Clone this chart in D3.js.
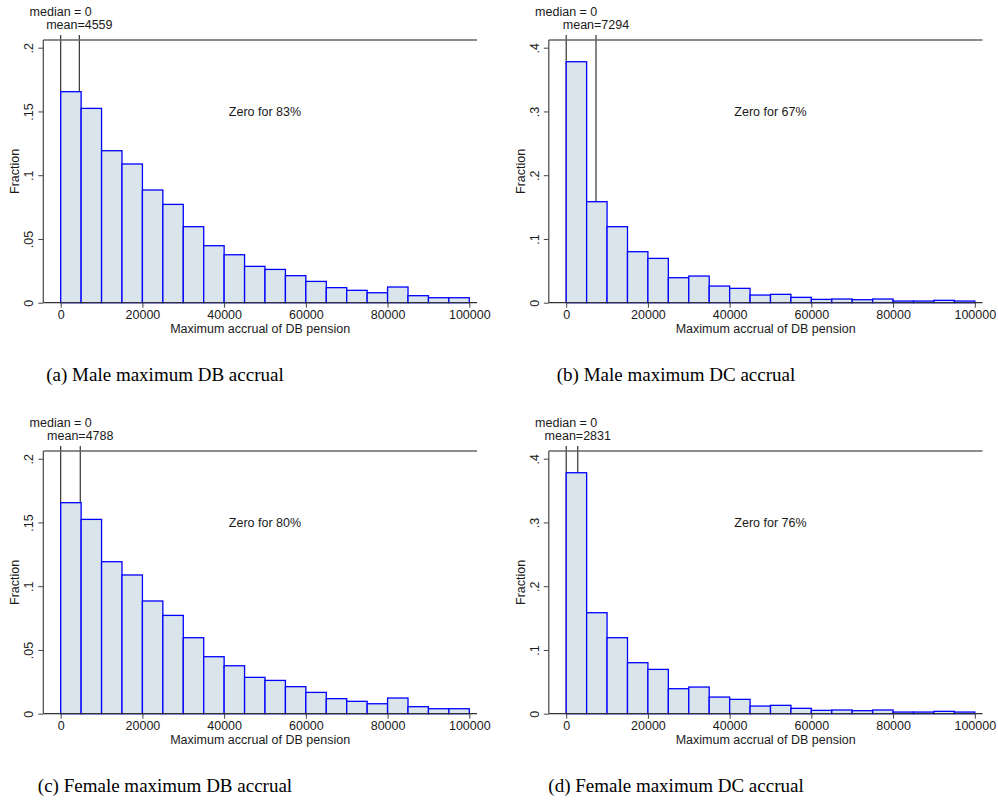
<!DOCTYPE html>
<html>
<head>
<meta charset="utf-8">
<script src="https://cdn.jsdelivr.net/npm/d3@7"></script>
<style>
  body { margin: 0; background: #fff; }
  svg { display: block; }
  text { font-family: "Liberation Sans", Arial, sans-serif; fill: #1a1a1a; }
  .caption { font-family: "Liberation Serif", "Times New Roman", serif; fill: #000; }
</style>
</head>
<body>
<script>
const width = 998,
    height = 810;

// histogram bins (lower edge of each 5000 wide bin)
const binStarts = [0, 5000, 10000, 15000, 20000, 25000, 30000, 35000, 40000, 45000,
                   50000, 55000, 60000, 65000, 70000, 75000, 80000, 85000, 90000, 95000];
const binWidth = 5000;

// fractions
const maleDB = [0.1655, 0.1524, 0.1192, 0.1088, 0.0884, 0.0771, 0.0596, 0.0447, 0.0376, 0.0285,
                0.0261, 0.0212, 0.0167, 0.0118, 0.0097, 0.0078, 0.0123, 0.0055, 0.0039, 0.0039];
const maleDC = [0.378, 0.1584, 0.1192, 0.080, 0.0695, 0.0392, 0.0418, 0.0261, 0.0225, 0.0120,
                0.0131, 0.0084, 0.0052, 0.0058, 0.0047, 0.0058, 0.0026, 0.0026, 0.0037, 0.0026];
const femaleDB = [0.1655, 0.1524, 0.1192, 0.1088, 0.0884, 0.0771, 0.0596, 0.0447, 0.0376, 0.0285,
                  0.0261, 0.0212, 0.0167, 0.0118, 0.0097, 0.0078, 0.0123, 0.0055, 0.0039, 0.0039];
const femaleDC = [0.378, 0.1584, 0.1192, 0.080, 0.0695, 0.0392, 0.0418, 0.0261, 0.0225, 0.0120,
                  0.0131, 0.0084, 0.0052, 0.0058, 0.0047, 0.0058, 0.0026, 0.0026, 0.0037, 0.0026];

const means = [4559, 7294, 4788, 2831];
const medians = [0, 0, 0, 0];
const zeroShares = ["Zero for 83%", "Zero for 67%", "Zero for 80%", "Zero for 76%"];
const captions = ["(a) Male maximum DB accrual", "(b) Male maximum DC accrual",
                  "(c) Female maximum DB accrual", "(d) Female maximum DC accrual"];

const xTicks = [0, 20000, 40000, 60000, 80000, 100000];
const yTicksDB = [0, 0.05, 0.1, 0.15, 0.2];
const yTicksDC = [0, 0.1, 0.2, 0.3, 0.4];
const xTitle = "Maximum accrual of DB pension";
const yTitle = "Fraction";

const series = [maleDB, maleDC, femaleDB, femaleDC];
const yTickSets = [yTicksDB, yTicksDC, yTicksDB, yTicksDC];

// panel offsets
const offsets = [[0, 0], [505.5, 0], [0, 411], [505.5, 411]];

// geometry inside one panel
const axisLeft = 43.3, axisRight = 477, plotTop = 40, plotBottom = 302.7;

const svg = d3.select("body").append("svg")
    .attr("width", width)
    .attr("height", height);

const x = d3.scaleLinear().domain([0, 100000]).range([60.7, 469.3]);

function fmtY(d) {
    if (d === 0) return "0";
    return String(d).replace(/^0/, "");
}

series.forEach(function(values, i) {
    const yTicks = yTickSets[i];
    const yMax = yTicks[yTicks.length - 1];
    const y = d3.scaleLinear().domain([0, yMax]).range([plotBottom, 47.7]);

    const g = svg.append("g")
        .attr("transform", "translate(" + offsets[i][0] + "," + offsets[i][1] + ")");

    // median and mean lines (behind the bars)
    [medians[i], means[i]].forEach(function(v) {
        g.append("line")
            .attr("x1", x(v)).attr("x2", x(v))
            .attr("y1", plotTop - 5).attr("y2", plotBottom)
            .attr("stroke", "#222")
            .attr("stroke-width", 1.1);
    });

    g.append("text")
        .attr("x", x(medians[i]))
        .attr("y", plotTop - 24)
        .attr("text-anchor", "middle")
        .style("font-size", "12.5px")
        .text("median = " + medians[i]);

    g.append("text")
        .attr("x", x(means[i]))
        .attr("y", plotTop - 11)
        .attr("text-anchor", "middle")
        .style("font-size", "12.5px")
        .text("mean=" + means[i]);

    // bars
    g.append("g")
        .selectAll("rect")
        .data(values)
        .enter().append("rect")
        .attr("x", function(d, j) { return x(binStarts[j]); })
        .attr("width", function(d, j) { return x(binStarts[j] + binWidth) - x(binStarts[j]); })
        .attr("y", function(d) { return y(d); })
        .attr("height", function(d) { return plotBottom - y(d); })
        .attr("fill", "#d9e4eb")
        .attr("stroke", "#0000ff")
        .attr("stroke-width", 1.3);

    // top line of plot region
    g.append("line")
        .attr("x1", axisLeft).attr("x2", axisRight)
        .attr("y1", plotTop).attr("y2", plotTop)
        .attr("stroke", "#666")
        .attr("stroke-width", 1.3);

    // y axis
    const yAxis = g.append("g")
        .attr("transform", "translate(" + axisLeft + ",0)")
        .call(d3.axisLeft(y).tickValues(yTicks).tickSize(5).tickFormat(fmtY));
    yAxis.select(".domain").remove();
    yAxis.selectAll("line").attr("stroke", "#444");
    yAxis.selectAll("text")
        .attr("transform", "rotate(-90)")
        .attr("x", 0)
        .attr("y", -10)
        .attr("dy", 0)
        .attr("text-anchor", "middle")
        .style("font-size", "12.5px")
        .style("font-family", "'Liberation Sans', Arial, sans-serif")
        .attr("fill", "#1a1a1a");
    g.append("line")
        .attr("x1", axisLeft).attr("x2", axisLeft)
        .attr("y1", plotTop).attr("y2", plotBottom)
        .attr("stroke", "#444")
        .attr("stroke-width", 1.2);

    // x axis
    const xAxis = g.append("g")
        .attr("transform", "translate(0," + plotBottom + ")")
        .call(d3.axisBottom(x).tickValues(xTicks).tickSize(5).tickPadding(2).tickFormat(d3.format("d")));
    xAxis.select(".domain").remove();
    xAxis.selectAll("line").attr("stroke", "#444");
    xAxis.selectAll("text")
        .style("font-size", "12.5px")
        .style("font-family", "'Liberation Sans', Arial, sans-serif")
        .attr("fill", "#1a1a1a");
    g.append("line")
        .attr("x1", axisLeft).attr("x2", axisRight)
        .attr("y1", plotBottom).attr("y2", plotBottom)
        .attr("stroke", "#333")
        .attr("stroke-width", 1.3);

    // titles
    g.append("text")
        .attr("x", (axisLeft + axisRight) / 2)
        .attr("y", 333)
        .attr("text-anchor", "middle")
        .style("font-size", "12.5px")
        .text(xTitle);

    g.append("text")
        .attr("transform", "translate(19," + ((plotTop + plotBottom) / 2) + ") rotate(-90)")
        .attr("text-anchor", "middle")
        .style("font-size", "12.5px")
        .text(yTitle);

    // zero share note
    g.append("text")
        .attr("x", x(50000))
        .attr("y", y(yMax * 0.75))
        .attr("dy", "0.35em")
        .attr("text-anchor", "middle")
        .style("font-size", "12.5px")
        .text(zeroShares[i]);

    // caption under the panel
    g.append("text")
        .attr("class", "caption")
        .attr("x", i % 2 === 0 ? 165 : 170.5)
        .attr("y", 381)
        .attr("text-anchor", "middle")
        .style("font-size", "19px")
        .text(captions[i]);
});
</script>
</body>
</html>
